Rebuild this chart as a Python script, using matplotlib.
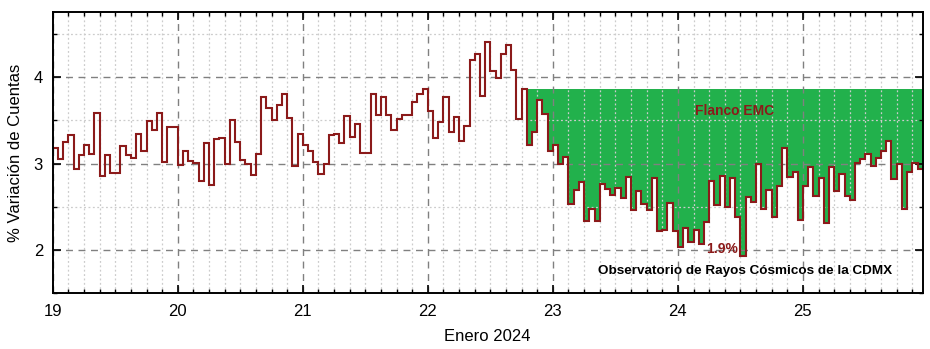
import numpy as np
import matplotlib.pyplot as plt
from matplotlib.ticker import MultipleLocator

plt.rcParams['font.family'] = ['Liberation Sans', 'DejaVu Sans']

# hourly count variation (%), starting 19 Jan 2024 00:00
start_day = 19
variation = [
    3.18, 3.05, 3.25, 3.33, 2.94, 3.10, 3.22, 3.11, 3.58, 2.86, 3.10, 2.89,
    2.89, 3.20, 3.10, 3.07, 3.34, 3.14, 3.49, 3.39, 3.59, 3.02, 3.42, 3.42,
    2.98, 3.15, 3.03, 3.01, 2.80, 3.24, 2.75, 3.29, 3.30, 2.99, 3.51, 3.25,
    3.04, 2.99, 2.87, 3.11, 3.77, 3.64, 3.51, 3.68, 3.81, 3.53, 2.97, 3.34,
    3.22, 3.15, 3.02, 2.88, 2.99, 3.33, 3.34, 3.24, 3.55, 3.31, 3.46, 3.12,
    3.12, 3.80, 3.56, 3.77, 3.56, 3.39, 3.52, 3.56, 3.56, 3.71, 3.80, 3.86,
    3.61, 3.30, 3.48, 3.77, 3.36, 3.54, 3.26, 3.43, 4.20, 4.27, 3.78, 4.41,
    4.07, 3.99, 4.27, 4.37, 4.08, 3.52, 3.86, 3.22, 3.37, 3.73, 3.57, 3.15,
    3.21, 3.00, 3.08, 2.53, 2.70, 2.79, 2.34, 2.48, 2.34, 2.76, 2.71, 2.64,
    2.72, 2.60, 2.85, 2.46, 2.68, 2.53, 2.46, 2.83, 2.22, 2.23, 2.54, 2.22,
    2.03, 2.26, 2.09, 2.23, 2.07, 2.33, 2.80, 2.52, 2.86, 2.50, 2.83, 2.38,
    1.93, 2.61, 2.56, 2.99, 2.48, 2.69, 2.38, 2.74, 3.18, 2.85, 2.90, 2.35,
    2.74, 2.96, 2.63, 2.83, 2.31, 2.96, 2.68, 2.88, 2.63, 2.58, 3.01, 3.05,
    3.11, 2.97, 3.07, 3.15, 3.26, 2.82, 3.00, 2.47, 2.90, 3.01, 2.94,
]
# Forbush decrease onset (hour index); pre-event level is the hour before
onset_hour = 91
day_ticks = [19, 20, 21, 22, 23, 24, 25]

line_color = '#8B1A1A'
fill_color = '#22B14C'

vals = np.array(variation)
edges = start_day + np.arange(len(vals) + 1) / 24.0
level = vals[onset_hour - 1]
drop = level - vals.min()

fig = plt.figure(figsize=(9.3, 3.49), dpi=100)
ax = fig.add_axes([0.0567, 0.1596, 0.9355, 0.8052])

# shaded decrease below the pre-event level (grid stays visible over it)
vals_ext = np.append(vals, vals[-1])
ax.fill_between(edges[onset_hour:], level, vals_ext[onset_hour:], step='post',
                color=fill_color, linewidth=0, zorder=1)
ax.stairs(vals, edges, baseline=None, color=line_color, linewidth=1.5, zorder=3)

ax.set_xlim(edges[0], edges[-1])
ax.set_ylim(1.5, 4.75)
ax.set_xticks(day_ticks)
ax.set_xticklabels([str(d) for d in day_ticks])
ax.xaxis.set_minor_locator(MultipleLocator(3 / 24.0))
ax.yaxis.set_major_locator(MultipleLocator(1))
ax.yaxis.set_minor_locator(MultipleLocator(0.5))

ax.set_axisbelow('line')
ax.grid(which='major', color='#808080', linestyle=(0, (5, 4)), linewidth=1.0)
ax.grid(which='minor', color='#CCCCCC', linestyle=(0, (1.5, 2)), linewidth=0.9)

ax.tick_params(which='both', direction='in', top=True, right=True, labelsize=12)
ax.tick_params(which='major', length=5.5, width=1.2)
ax.tick_params(which='minor', length=3.2, width=1.0)
ax.tick_params(axis='x', pad=8)
ax.tick_params(axis='y', pad=7)
for s in ax.spines.values():
    s.set_linewidth(1.4)
    s.set_zorder(4)

ax.set_xlabel('Enero 2024', fontsize=12, labelpad=7)
ax.set_ylabel('% Variación de Cuentas', fontsize=12, labelpad=8)

ax.text(24.45, 3.61, 'Flanco EMC', color=line_color, fontsize=10,
        fontweight='bold', ha='center', va='center', zorder=4)
ax.text(24.35, 2.01, f'{drop:.1f}%', color=line_color, fontsize=10,
        fontweight='bold', ha='center', va='center', zorder=4)
ax.text(24.54, 1.76, 'Observatorio de Rayos Cósmicos de la CDMX', color='black',
        fontsize=9.7, fontweight='bold', ha='center', va='center', zorder=4)

fig.savefig('out.png', dpi=100)
plt.close()
